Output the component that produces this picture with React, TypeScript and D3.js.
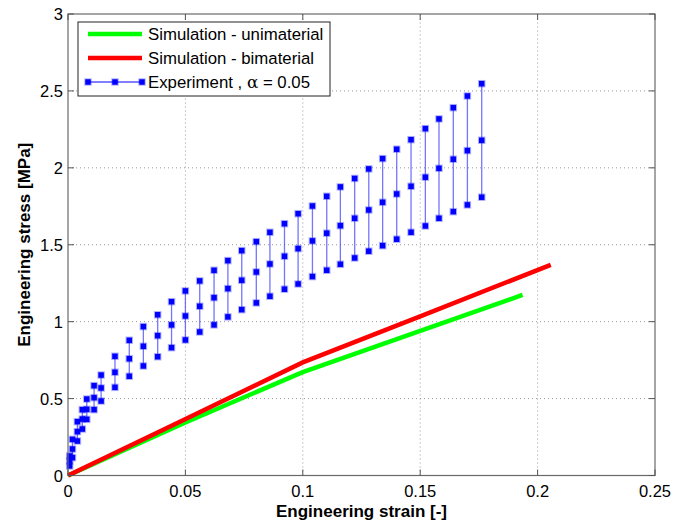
import * as d3 from "d3"

// Experiment: strain with mean and error-bar limits of the stress (MPa)
const strain = [
  0.0007, 0.0019, 0.004, 0.0061, 0.008, 0.0111, 0.0141, 0.02, 0.0261, 0.0321, 0.0382, 0.0441,
  0.05, 0.0561, 0.0622, 0.0681, 0.074, 0.0802, 0.086, 0.0922, 0.098, 0.1041, 0.1102, 0.116,
  0.1221, 0.1281, 0.134, 0.14, 0.1461, 0.1522, 0.158, 0.1641, 0.1701, 0.1762,
]
const stressMean = [
  0.094, 0.172, 0.285, 0.367, 0.43, 0.506, 0.569, 0.671, 0.759, 0.84, 0.909, 0.979,
  1.037, 1.1, 1.156, 1.215, 1.269, 1.323, 1.375, 1.425, 1.475, 1.525, 1.575, 1.624,
  1.672, 1.726, 1.776, 1.83, 1.88, 1.939, 1.997, 2.056, 2.112, 2.179,
]
const stressUpper = [
  0.127, 0.235, 0.35, 0.428, 0.497, 0.584, 0.653, 0.775, 0.879, 0.968, 1.045, 1.13,
  1.2, 1.265, 1.334, 1.397, 1.462, 1.52, 1.581, 1.637, 1.702, 1.752, 1.815, 1.876,
  1.931, 1.993, 2.06, 2.121, 2.183, 2.255, 2.318, 2.391, 2.467, 2.547,
]
const stressLower = [
  0.062, 0.116, 0.224, 0.302, 0.365, 0.428, 0.484, 0.573, 0.645, 0.712, 0.772, 0.831,
  0.881, 0.933, 0.979, 1.031, 1.078, 1.122, 1.165, 1.211, 1.245, 1.293, 1.334, 1.373,
  1.414, 1.458, 1.494, 1.536, 1.581, 1.622, 1.672, 1.715, 1.759, 1.809,
]

// Simulations
const uniStrain = [0, 0.05, 0.1, 0.1936]
const uniStress = [0, 0.345, 0.672, 1.174]
const biStrain = [0, 0.045, 0.1, 0.15, 0.2056]
const biStress = [0, 0.33, 0.735, 1.035, 1.369]

const xTicks = [0, 0.05, 0.1, 0.15, 0.2, 0.25]
const yTicks = [0, 0.5, 1, 1.5, 2, 2.5, 3]

const legendItems = ["Simulation - unimaterial", "Simulation - bimaterial", "Experiment"]

const width = 675
const height = 530
const margin = { top: 14, right: 20, bottom: 54.5, left: 68 }
const font = "'Liberation Sans', Arial, sans-serif"

export default function App() {
  const x = d3.scaleLinear().domain([0, 0.25]).range([margin.left, width - margin.right])
  const y = d3.scaleLinear().domain([0, 3]).range([height - margin.bottom, margin.top])

  const line = d3
    .line<[number, number]>()
    .x((d) => x(d[0]))
    .y((d) => y(d[1]))

  const uni = uniStrain.map((s, i) => [s, uniStress[i]] as [number, number])
  const bi = biStrain.map((s, i) => [s, biStress[i]] as [number, number])

  const x0 = x(0)
  const x1 = x(0.25)
  const y0 = y(0)
  const y1 = y(3)
  const ms = 5.5

  const marker = (cx: number, cy: number, key: string) => (
    <rect
      key={key}
      x={cx - ms / 2}
      y={cy - ms / 2}
      width={ms}
      height={ms}
      fill="#0000ff"
      stroke="#0000ff"
      strokeOpacity={0.3}
      strokeWidth={2}
    />
  )

  return (
    <svg width={width} height={height} style={{ position: "absolute", left: 0, top: 0, background: "#fff" }}>
      {/* grid */}
      {xTicks.slice(1, -1).map((t) => (
        <line key={`gx${t}`} x1={x(t)} x2={x(t)} y1={y0} y2={y1} stroke="#999" strokeWidth={1} strokeDasharray="1,3" />
      ))}
      {yTicks.slice(1, -1).map((t) => (
        <line key={`gy${t}`} x1={x0} x2={x1} y1={y(t)} y2={y(t)} stroke="#999" strokeWidth={1} strokeDasharray="1,3" />
      ))}

      {/* simulations */}
      <path d={line(uni) || ""} fill="none" stroke="#00ff00" strokeWidth={4.5} />
      <path d={line(bi) || ""} fill="none" stroke="#ff0000" strokeWidth={4.5} />

      {/* experiment error bars */}
      {strain.map((s, i) => (
        <line
          key={`eb${i}`}
          x1={x(s)}
          x2={x(s)}
          y1={y(stressLower[i])}
          y2={y(stressUpper[i])}
          stroke="#3a3aff"
          strokeWidth={1.3}
          strokeOpacity={0.7}
        />
      ))}
      {strain.map((s, i) => (
        <g key={`m${i}`}>
          {marker(x(s), y(stressUpper[i]), "u")}
          {marker(x(s), y(stressMean[i]), "c")}
          {marker(x(s), y(stressLower[i]), "l")}
        </g>
      ))}

      {/* axes box */}
      <rect x={x0} y={y1} width={x1 - x0} height={y0 - y1} fill="none" stroke="#6a6a6a" strokeWidth={1.2} />
      {xTicks.map((t) => (
        <g key={`tx${t}`}>
          <line x1={x(t)} x2={x(t)} y1={y0} y2={y0 - 6} stroke="#555" />
          <line x1={x(t)} x2={x(t)} y1={y1} y2={y1 + 6} stroke="#555" />
          <text x={x(t)} y={y0 + 21} textAnchor="middle" fontFamily={font} fontSize={16.5} fill="#000">
            {t}
          </text>
        </g>
      ))}
      {yTicks.map((t) => (
        <g key={`ty${t}`}>
          <line x1={x0} x2={x0 + 6} y1={y(t)} y2={y(t)} stroke="#555" />
          <line x1={x1} x2={x1 - 6} y1={y(t)} y2={y(t)} stroke="#555" />
          <text x={x0 - 5} y={y(t) + 6} textAnchor="end" fontFamily={font} fontSize={16.5} fill="#000">
            {t}
          </text>
        </g>
      ))}

      {/* axis titles */}
      <text
        x={(x0 + x1) / 2}
        y={height - 13}
        textAnchor="middle"
        fontFamily={font}
        fontSize={17}
        fontWeight="bold"
        fill="#000"
      >
        Engineering strain [-]
      </text>
      <text
        transform={`translate(30, ${(y0 + y1) / 2}) rotate(-90)`}
        textAnchor="middle"
        fontFamily={font}
        fontSize={17}
        fontWeight="bold"
        fill="#000"
      >
        Engineering stress [MPa]
      </text>

      {/* legend */}
      <g transform="translate(78, 22)">
        <rect width={252} height={74} fill="#fff" stroke="#222" strokeWidth={1} />
        <line x1={10} x2={64} y1={12} y2={12} stroke="#00ff00" strokeWidth={4.5} />
        <line x1={10} x2={64} y1={36} y2={36} stroke="#ff0000" strokeWidth={4.5} />
        <line x1={10} x2={64} y1={60} y2={60} stroke="#0000ff" strokeWidth={1} />
        {[10, 37, 64].map((lx) => marker(lx, 60, `lm${lx}`))}
        {legendItems.map((label, i) => (
          <text key={label} x={70} y={18 + i * 24} fontFamily={font} fontSize={16.8} fill="#000">
            {label}
            {i === 2 ? (
              <>
                {" , "}
                <tspan fontFamily="'DejaVu Serif', serif">α</tspan>
                {" = 0.05"}
              </>
            ) : null}
          </text>
        ))}
      </g>
    </svg>
  )
}
